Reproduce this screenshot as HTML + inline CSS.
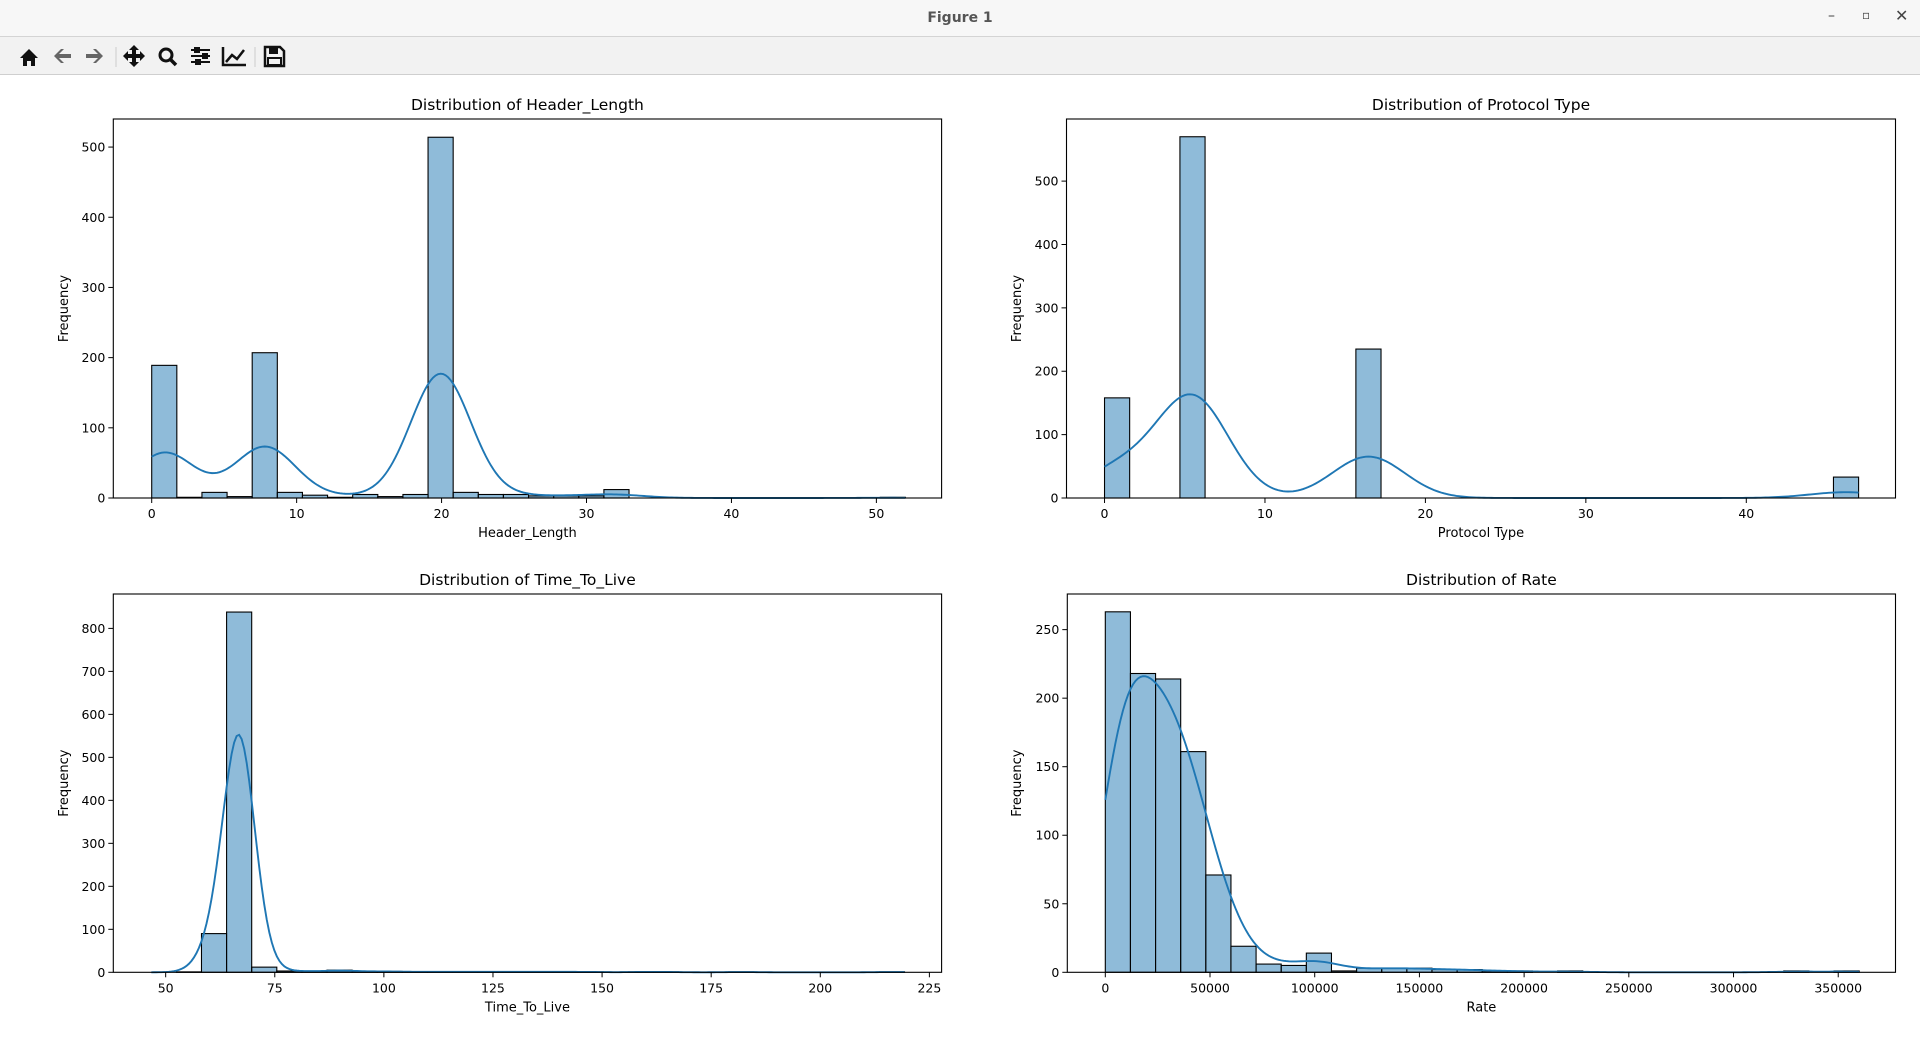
<!DOCTYPE html>
<html><head><meta charset="utf-8"><style>
html,body{margin:0;padding:0;width:1920px;height:1043px;overflow:hidden;background:#fff;font-family:"DejaVu Sans","Liberation Sans",sans-serif}
#titlebar{position:absolute;left:0;top:0;width:1920px;height:36px;background:#f7f7f7;border-bottom:1px solid #d4d4d4}
#titlebar .t{position:absolute;left:0;width:1920px;top:10px;text-align:center;font-size:14px;color:#555;font-weight:bold}
#toolbar{position:absolute;left:0;top:37px;width:1920px;height:37px;background:#f2f2f2;border-bottom:1px solid #cfcfcf}
svg{position:absolute;left:0;top:0}
</style></head><body>
<div id="titlebar"><div class="t">Figure 1</div>
<div style="position:absolute;left:1828px;top:8px;font-size:14px;color:#444">–</div>
<div style="position:absolute;left:1862px;top:8px;font-size:12px;color:#444">▫</div>
<div style="position:absolute;left:1895px;top:6px;font-size:16px;color:#444">✕</div>
</div>
<div id="toolbar">
<svg width="300" height="37">
<g><path d="M20,21 L29,12 L38,21 L35,21 L35,29 L31,29 L31,24 L27,24 L27,29 L23,29 L23,21Z" fill="#111"/></g>
<g><path d="M54,19 L61,12 L64,12 L59,17 L71,17 L71,21 L59,21 L64,26 L61,26Z" fill="#666"/></g>
<g><path d="M103,19 L96,12 L93,12 L98,17 L86,17 L86,21 L98,21 L93,26 L96,26Z" fill="#666"/></g>
<line x1="116" y1="10" x2="116" y2="30" stroke="#ccc"/>
<g><path d="M134,8 L139,13 L136,13 L136,17 L140,17 L140,14 L145,19 L140,24 L140,21 L136,21 L136,25 L139,25 L134,30 L129,25 L132,25 L132,21 L128,21 L128,24 L123,19 L128,14 L128,17 L132,17 L132,13 L129,13Z" fill="#111"/></g>
<g><circle cx="166" cy="18" r="6" fill="none" stroke="#111" stroke-width="3"/><line x1="170" y1="22" x2="176" y2="28" stroke="#111" stroke-width="3.5"/></g>
<g stroke="#111" stroke-width="2"><line x1="191" y1="13" x2="210" y2="13"/><line x1="191" y1="19" x2="210" y2="19"/><line x1="191" y1="25" x2="210" y2="25"/><rect x="195" y="11" width="4" height="4" fill="#111"/><rect x="203" y="17" width="4" height="4" fill="#111"/><rect x="196" y="23" width="4" height="4" fill="#111"/></g>
<g stroke="#111" stroke-width="2.5" fill="none"><polyline points="223,10 223,28 246,28"/><polyline points="226,25 232,18 237,22 244,13"/></g>
<line x1="255" y1="10" x2="255" y2="30" stroke="#ccc"/>
<g><path d="M265,10 L280,10 L284,14 L284,29 L265,29Z" fill="none" stroke="#111" stroke-width="2.5"/><rect x="269" y="11" width="9" height="6" fill="#111"/><rect x="268" y="21" width="13" height="7" fill="none" stroke="#111" stroke-width="2"/></g>
</svg></div>
<svg id="fig" width="1920" height="1043"></svg>
<script>
// ---- data ----
const headerCounts=[189,1,8,2,207,8,4,1,5,2,5,514,8,5,5,3,3,3,12,0,0,0,0,0,0,0,0,0,0,1];
const headerTicks=[0,10,20,30,40,50];
const headerYTicks=[0,100,200,300,400,500];
const protoCounts=[158,0,0,570,0,0,0,0,0,0,235,0,0,0,0,0,0,0,0,0,0,0,0,0,0,0,0,0,0,33];
const protoTicks=[0,10,20,30,40];
const protoYTicks=[0,100,200,300,400,500];
const ttlCounts=[0,1,90,838,12,3,2,5,2,2,1,1,1,1,1,1,1,1,0,1,1,0,0,1,0,0,0,0,0,1];
const ttlTicks=[50,75,100,125,150,175,200,225];
const ttlYTicks=[0,100,200,300,400,500,600,700,800];
const rateCounts=[263,218,214,161,71,19,6,5,14,1,3,3,3,2,2,1,1,0,1,0,0,0,0,0,0,0,0,1,0,1];
const rateTicks=[0,50000,100000,150000,200000,250000,300000,350000];
const rateYTicks=[0,50,100,150,200,250];

const NS="http://www.w3.org/2000/svg";
const fig=document.getElementById('fig');
function mk(tag,attrs,parent){const e=document.createElementNS(NS,tag);for(const k in attrs)e.setAttribute(k,attrs[k]);(parent||fig).appendChild(e);return e;}

function chart(cfg){
  const g=mk('g',{});
  
  
  const L=cfg.box[0],T=cfg.box[1],R=cfg.box[2],B=cfg.box[3];
  const xs=v=>L+(v-cfg.xlim[0])/(cfg.xlim[1]-cfg.xlim[0])*(R-L);
  const ys=v=>B-(v-0)/(cfg.ymax)*(B-T);
  const n=cfg.counts.length, bw=(cfg.range[1]-cfg.range[0])/n;
  cfg.counts.forEach((c,i)=>{
    const x0=xs(cfg.range[0]+i*bw),x1=xs(cfg.range[0]+(i+1)*bw);
    const r=mk('rect',{x:x0,y:ys(c),width:x1-x0,height:ys(0)-ys(c),fill:'rgba(31,119,180,0.5)',stroke:'#000','stroke-width':1.1},g);
    
    
  });
  let d='';const steps=300;
  for(let s=0;s<=steps;s++){
    const x=cfg.range[0]+(cfg.range[1]-cfg.range[0])*s/steps;let y=0;
    cfg.counts.forEach((c,i)=>{const cx=cfg.range[0]+(i+0.5)*bw;const z=(x-cx)/cfg.bw;y+=c*bw*Math.exp(-0.5*z*z)/(cfg.bw*Math.sqrt(2*Math.PI));});
    d+=(s?'L':'M')+xs(x).toFixed(2)+','+ys(y).toFixed(2);
  }
  const p=mk('path',{d:d,fill:'none',stroke:'#1f77b4','stroke-width':1.9},g);
  
  
  const fr=mk('rect',{x:L,y:T,width:R-L,height:B-T,fill:'none',stroke:'#000','stroke-width':1.1},g);
  
  
  cfg.xticks.forEach(v=>{
    const x=xs(v);mk('line',{x1:x,y1:B,x2:x,y2:B+5,stroke:'#000'},g);
    const t=mk('text',{x:x,y:B+20,'text-anchor':'middle','font-size':12.5,fill:'#000'},g);t.textContent=v;
    
    
  });
  cfg.yticks.forEach(v=>{
    const y=ys(v);mk('line',{x1:L-5,y1:y,x2:L,y2:y,stroke:'#000'},g);
    const t=mk('text',{x:L-8,y:y+4.5,'text-anchor':'end','font-size':12.5,fill:'#000'},g);t.textContent=v;
    
    
  });
  const ti=mk('text',{x:(L+R)/2,y:T-9,'text-anchor':'middle','font-size':15.5,fill:'#000'},g);ti.textContent=cfg.title;
  
  
  const xl=mk('text',{x:(L+R)/2,y:B+39,'text-anchor':'middle','font-size':13,fill:'#000'},g);xl.textContent=cfg.xlabel;
  
  
  const yl=mk('text',{x:0,y:0,'text-anchor':'middle','font-size':13,fill:'#000',transform:`translate(${cfg.ylx},${(T+B)/2}) rotate(-90)`},g);yl.textContent='Frequency';
  
  
}
chart({name:'header-length-chart',box:[113.3,119,941.6,498],xlim:[-2.65,54.5],ymax:540,range:[0,52],counts:headerCounts,bw:2.05,xticks:headerTicks,yticks:headerYTicks,title:'Distribution of Header_Length',xlabel:'Header_Length',ylx:68});
chart({name:'protocol-type-chart',box:[1066.5,119,1895.5,498],xlim:[-2.37,49.3],ymax:598,range:[0,47],counts:protoCounts,bw:2.25,xticks:protoTicks,yticks:protoYTicks,title:'Distribution of Protocol Type',xlabel:'Protocol Type',ylx:1021});
chart({name:'time-to-live-chart',box:[113.3,594,941.6,972.3],xlim:[38,227.8],ymax:880,range:[46.7,219.3],counts:ttlCounts,bw:3.6,xticks:ttlTicks,yticks:ttlYTicks,title:'Distribution of Time_To_Live',xlabel:'Time_To_Live',ylx:68});
chart({name:'rate-chart',box:[1067.3,594,1895.5,972.3],xlim:[-18150,377350],ymax:276,range:[0,360000],counts:rateCounts,bw:11000,xticks:rateTicks,yticks:rateYTicks,title:'Distribution of Rate',xlabel:'Rate',ylx:1021});
</script>
</body></html>
